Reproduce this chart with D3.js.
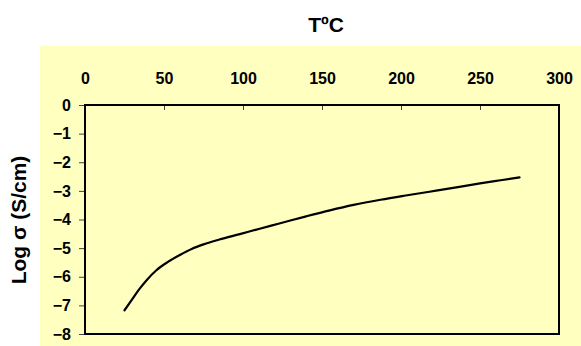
<!DOCTYPE html>
<html>
<head>
<meta charset="utf-8">
<script src="https://cdn.jsdelivr.net/npm/d3@7"></script>
<style>
  html, body { margin: 0; padding: 0; background: #ffffff; }
  svg { display: block; }
  text { font-family: "Liberation Sans", Arial, sans-serif; font-weight: bold; fill: #000; }
</style>
</head>
<body>
<svg id="chart" width="581" height="346"></svg>
<script>
// Temperature (°C) and log conductivity (S/cm)
const temperature = [25, 29.5, 34, 39, 45, 52.5, 60, 67.5, 75, 85, 98, 110, 123, 140, 155, 170, 187, 202, 218, 235, 250, 263, 275];
const logSigma = [-7.17, -6.82, -6.46, -6.12, -5.78, -5.48, -5.24, -5.03, -4.87, -4.70, -4.51, -4.33, -4.14, -3.89, -3.68, -3.49, -3.31, -3.17, -3.03, -2.88, -2.74, -2.63, -2.53];
const xTicks = [0, 50, 100, 150, 200, 250, 300];
const yTicks = [0, -1, -2, -3, -4, -5, -6, -7, -8];
const xTitle = "T\u00baC";
const yTitle = "Log \u03c3 (S/cm)";

const svg = d3.select("#chart");
const plot = { left: 85, right: 559, top: 105, bottom: 334 };

// Pale yellow chart background
svg.append("rect")
  .attr("x", 40).attr("y", 46)
  .attr("width", 541).attr("height", 300)
  .attr("fill", "#ffffc0");

const x = d3.scaleLinear().domain([0, 300]).range([plot.left, plot.right]);
const y = d3.scaleLinear().domain([-8, 0]).range([plot.bottom, plot.top]);

// Top temperature axis, ticks pointing into the plot
const xAxis = svg.append("g")
  .attr("transform", `translate(0,${plot.top})`)
  .call(d3.axisTop(x).tickValues(xTicks).tickSizeInner(-5).tickSizeOuter(0).tickPadding(21));
xAxis.select(".domain").remove();
xAxis.selectAll(".tick line").attr("stroke", "#444").attr("stroke-width", 1);
xAxis.selectAll(".tick text").style("font-size", "16px");
xAxis.selectAll(".tick").filter(d => d === 0 || d === 300).select("line").remove();

// Left conductivity axis, ticks pointing outward
const yAxis = svg.append("g")
  .attr("transform", `translate(${plot.left},0)`)
  .call(d3.axisLeft(y).tickValues(yTicks).tickSizeInner(6).tickSizeOuter(0).tickPadding(8));
yAxis.select(".domain").remove();
yAxis.selectAll(".tick line").attr("stroke", "#444").attr("stroke-width", 1);
yAxis.selectAll(".tick text").style("font-size", "16px");

// Plot frame
svg.append("rect")
  .attr("x", plot.left).attr("y", plot.top)
  .attr("width", plot.right - plot.left).attr("height", plot.bottom - plot.top)
  .attr("fill", "none").attr("stroke", "#000").attr("stroke-width", 2);

// Conductivity curve
const line = d3.line()
  .x((d, i) => x(temperature[i]))
  .y(d => y(d))
  .curve(d3.curveMonotoneX);
svg.append("path")
  .datum(logSigma)
  .attr("d", line)
  .attr("fill", "none")
  .attr("stroke", "#000")
  .attr("stroke-width", 2.2)
  .attr("stroke-linejoin", "round")
  .attr("stroke-linecap", "round");

// Axis titles
svg.append("text")
  .attr("x", 326).attr("y", 32)
  .attr("text-anchor", "middle")
  .style("font-size", "21px")
  .text(xTitle);

svg.append("text")
  .attr("transform", "translate(26,220) rotate(-90)")
  .attr("text-anchor", "middle")
  .style("font-size", "21px")
  .text(yTitle);
</script>
</body>
</html>
